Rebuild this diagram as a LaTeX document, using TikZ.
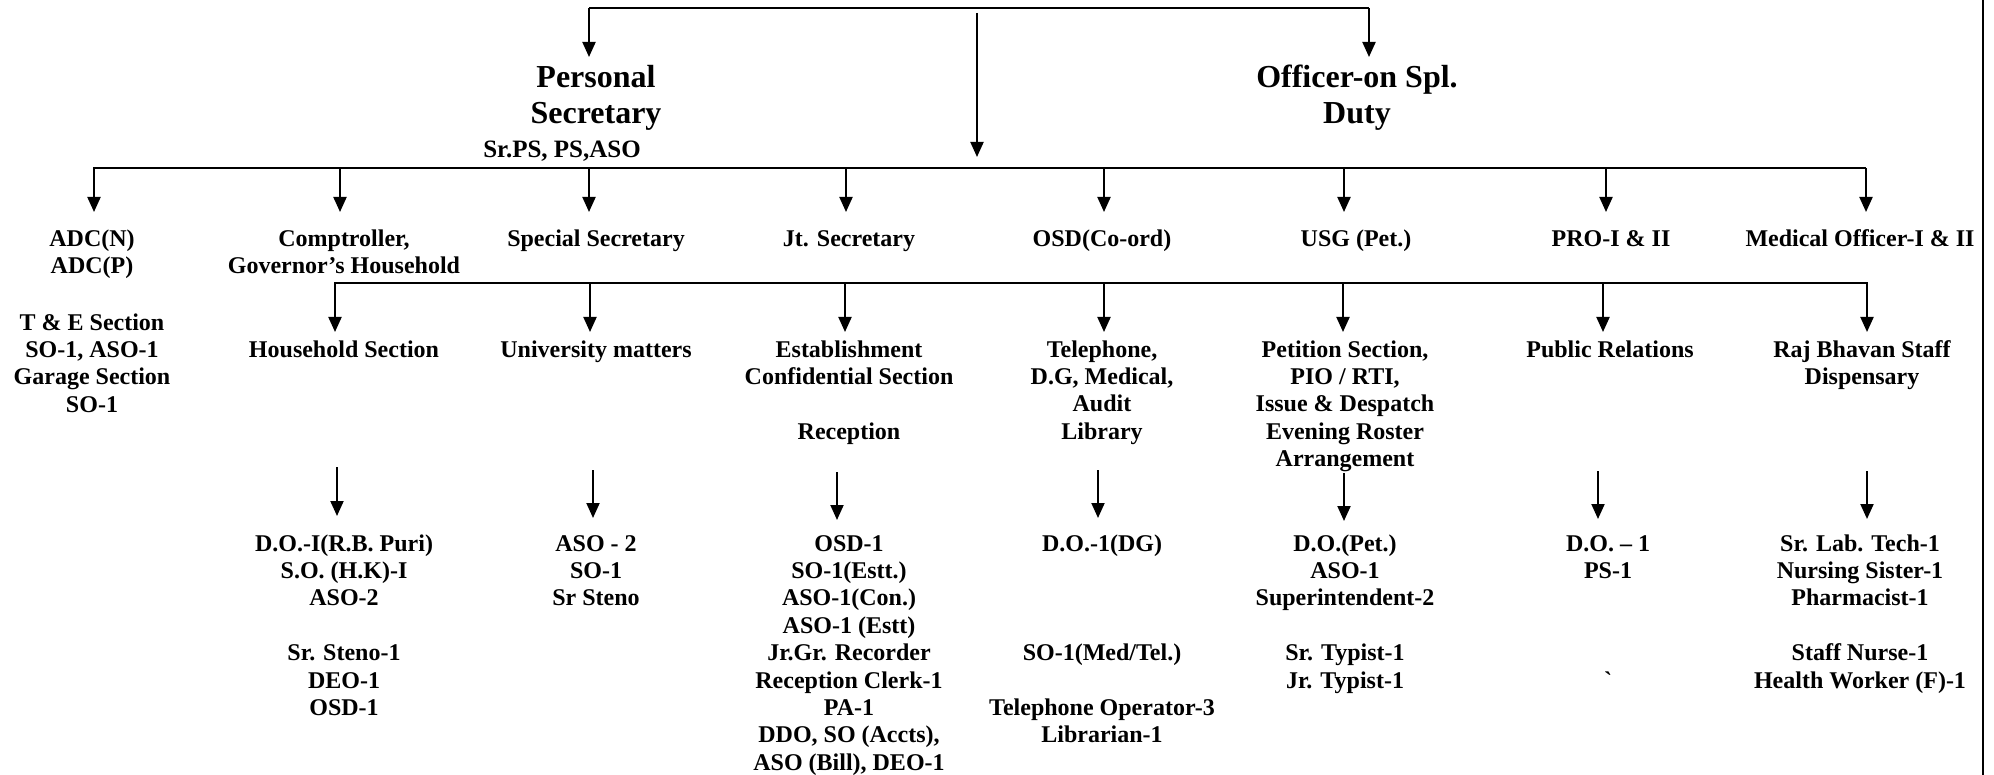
\documentclass[tikz,border=0pt]{standalone}
\usepackage{fontspec}
\setmainfont{Liberation Serif}
\usetikzlibrary{arrows.meta}
\tikzset{
  lbl/.style={font=\fontsize{24}{27.4}\selectfont\bfseries, align=center, anchor=north, inner sep=0pt},
  lblmid/.style={font=\fontsize{25}{28}\selectfont\bfseries, align=center, anchor=north, inner sep=0pt},
  big/.style={font=\fontsize{32}{36.5}\selectfont\bfseries, align=center, anchor=north, inner sep=0pt},
  conn/.style={line width=2pt},
  arr/.style={line width=2pt, -{Triangle[length=15pt,width=13pt]}},
  border/.style={line width=2.5pt}
}
\begin{document}
\begin{tikzpicture}[x=1pt,y=-1pt]
\useasboundingbox (0,0) rectangle (1994,775);

% right border
\coordinate (bt) at (1983,0);
\coordinate (bb) at (1983,775);
\draw[border] (bt) -- (bb);

% ---------- top level ----------
\coordinate (t1) at (589,8);
\coordinate (t2) at (1369,8);
\coordinate (t1tip) at (589,57);
\coordinate (t2tip) at (1369,57);
\draw[conn] (t1) -- (t2);
\draw[arr] (t1) -- (t1tip);
\draw[arr] (t2) -- (t2tip);

\coordinate (m1) at (977,13);
\coordinate (m2) at (977,157);
\draw[arr] (m1) -- (m2);

\node[big] (ps) at (596,61.45) {\strut Personal\\Secretary};
\node[lblmid] (psstaff) at (562,137.4) {\strut Sr.PS, PS,ASO};
\node[big] (ospl) at (1357,61.45) {\strut Officer-on Spl.\\Duty};

% ---------- second level ----------
\coordinate (b2L) at (93,168);
\coordinate (b2R) at (1866,168);
\draw[conn] (b2L) -- (b2R);
\foreach \n/\x in {adc/94, comp/340, ss/589, js/846, osdc/1104, usg/1344, pro/1606, med/1866}{
  \coordinate (\n-top) at (\x,168);
  \coordinate (\n-tip) at (\x,212);
  \draw[arr] (\n-top) -- (\n-tip);
}

\node[lbl] (adc) at (92,226.8) {\strut ADC(N)\\ADC(P)};
\node[lbl] (adcsec) at (92,310.8) {\strut T \& E Section\\SO-1, ASO-1\\Garage Section\\SO-1};
\node[lbl] (comp) at (344,226.8) {\strut Comptroller,\\Governor’s Household};
\node[lbl] (ss) at (596,226.8) {\strut Special Secretary};
\node[lbl] (js) at (849,226.8) {\strut Jt. Secretary};
\node[lbl] (osdc) at (1102,226.8) {\strut OSD(Co-ord)};
\node[lbl] (usg) at (1356,226.8) {\strut USG (Pet.)};
\node[lbl] (pro) at (1611,226.8) {\strut PRO-I \& II};
\node[lbl] (med) at (1860,226.8) {\strut Medical Officer-I \& II};

% ---------- third level ----------
\coordinate (b3L) at (334,283);
\coordinate (b3R) at (1868,283);
\draw[conn] (b3L) -- (b3R);
\foreach \n/\x in {hh/335, univ/590, est/845, tel/1104, pet/1343, pr/1603, raj/1867}{
  \coordinate (\n-top) at (\x,283);
  \coordinate (\n-tip) at (\x,332);
  \draw[arr] (\n-top) -- (\n-tip);
}

\node[lbl] (hh) at (344,337.8) {\strut Household Section};
\node[lbl] (univ) at (596,337.8) {\strut University matters};
\node[lbl] (est) at (849,337.8) {\strut Establishment\\Confidential Section\\\strut\\Reception};
\node[lbl] (tel) at (1102,337.8) {\strut Telephone,\\D.G, Medical,\\Audit\\Library};
\node[lbl] (pet) at (1345,337.8) {\strut Petition Section,\\PIO / RTI,\\Issue \& Despatch\\Evening Roster\\Arrangement};
\node[lbl] (pr) at (1610,337.8) {\strut Public Relations};
\node[lbl] (raj) at (1862,337.8) {\strut Raj Bhavan Staff\\Dispensary};

% ---------- fourth level arrows ----------
\foreach \n/\x/\ya/\yb in {hhs/337/467/516, univs/593/470/518, ests/837/472/520, tels/1098/470/518, pets/1344/473/521, prs/1598/471/519, rajs/1867/471/519}{
  \coordinate (\n-top) at (\x,\ya);
  \coordinate (\n-tip) at (\x,\yb);
  \draw[arr] (\n-top) -- (\n-tip);
}

\node[lbl] (hhs) at (344,531.8) {\strut D.O.-I(R.B. Puri)\\S.O. (H.K)-I\\ASO-2\\\strut\\Sr. Steno-1\\DEO-1\\OSD-1};
\node[lbl] (univs) at (596,531.8) {\strut ASO - 2\\SO-1\\Sr Steno};
\node[lbl] (ests) at (849,531.8) {\strut OSD-1\\SO-1(Estt.)\\ASO-1(Con.)\\ASO-1 (Estt)\\Jr.Gr. Recorder\\Reception Clerk-1\\PA-1\\DDO, SO (Accts),\\ASO (Bill), DEO-1};
\node[lbl] (tels) at (1102,531.8) {\strut D.O.-1(DG)\\\strut\\\strut\\\strut\\SO-1(Med/Tel.)\\\strut\\Telephone Operator-3\\Librarian-1};
\node[lbl] (pets) at (1345,531.8) {\strut D.O.(Pet.)\\ASO-1\\Superintendent-2\\\strut\\Sr. Typist-1\\Jr. Typist-1};
\node[lbl] (prs) at (1608,531.8) {\strut D.O. – 1\\PS-1\\\strut\\\strut\\\strut\\\textasciigrave};
\node[lbl] (rajs) at (1860,531.8) {\strut Sr. Lab. Tech-1\\Nursing Sister-1\\Pharmacist-1\\\strut\\Staff Nurse-1\\Health Worker (F)-1};
\end{tikzpicture}
\end{document}
